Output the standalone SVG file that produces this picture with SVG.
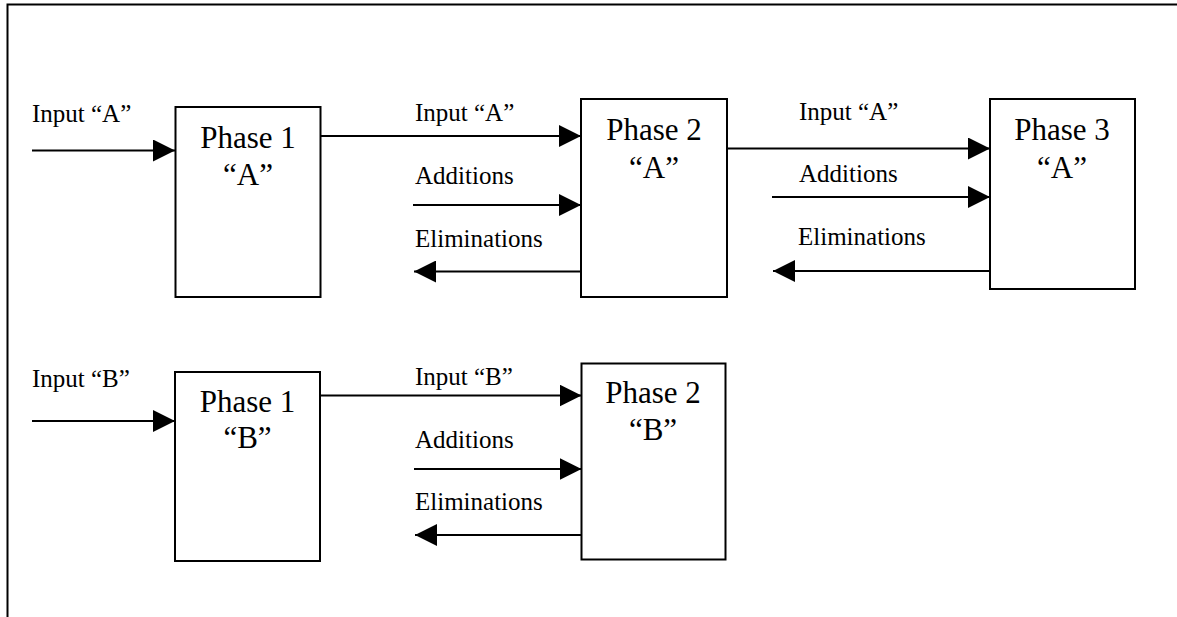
<svg xmlns="http://www.w3.org/2000/svg" width="1177" height="617" viewBox="0 0 1177 617">
<style>
.box{fill:#fff;stroke:#000;stroke-width:2}
.ph{font-family:"Liberation Serif","Times New Roman",serif;font-size:31px;fill:#000;text-anchor:middle}
.lb{font-family:"Liberation Serif","Times New Roman",serif;font-size:25px;fill:#000}
.cn{fill:none;stroke:#000;stroke-width:2;marker-end:url(#ah)}
.fr{fill:none;stroke:#000;stroke-width:2}
</style>
<defs>
<marker id="ah" markerUnits="userSpaceOnUse" markerWidth="22" markerHeight="22" viewBox="0 0 20 20" refX="20" refY="10" orient="auto">
<path d="M0,0 L20,10 L0,20 Z" fill="#000"/>
</marker>
</defs>
<rect width="1177" height="617" fill="#fff"/>
<path class="fr" d="M1177,4.5 H7.5 V617"/>
<g id="p1A"><rect class="box" x="175.5" y="107" width="145" height="190"/><text class="ph" x="248" y="148">Phase 1</text><text class="ph" x="248" y="185">“A”</text></g>
<g id="p2A"><rect class="box" x="581" y="99" width="146" height="198"/><text class="ph" x="654" y="140">Phase 2</text><text class="ph" x="654" y="178">“A”</text></g>
<g id="p3A"><rect class="box" x="990" y="99" width="145" height="190"/><text class="ph" x="1062" y="140">Phase 3</text><text class="ph" x="1062" y="178">“A”</text></g>
<g id="p1B"><rect class="box" x="175" y="372" width="145" height="189"/><text class="ph" x="247.5" y="412">Phase 1</text><text class="ph" x="247.5" y="448">“B”</text></g>
<g id="p2B"><rect class="box" x="581.5" y="363.5" width="144" height="196"/><text class="ph" x="653" y="403">Phase 2</text><text class="ph" x="653" y="440">“B”</text></g>
<g id="connectors">
<path class="cn" d="M32,150.5 H175"/>
<path class="cn" d="M320.5,136 H581"/>
<path class="cn" d="M413,205 H581"/>
<path class="cn" d="M581,271.5 H414"/>
<path class="cn" d="M727,148.5 H990"/>
<path class="cn" d="M772,197 H990"/>
<path class="cn" d="M990,271 H773"/>
<path class="cn" d="M32,421 H175"/>
<path class="cn" d="M320,395.5 H581.5"/>
<path class="cn" d="M414,469 H581.5"/>
<path class="cn" d="M581.5,535 H415"/>
</g>
<g id="labels">
<text class="lb" x="32" y="122">Input “A”</text>
<text class="lb" x="415" y="121">Input “A”</text>
<text class="lb" x="415" y="184">Additions</text>
<text class="lb" x="415" y="247">Eliminations</text>
<text class="lb" x="799" y="120">Input “A”</text>
<text class="lb" x="799" y="182">Additions</text>
<text class="lb" x="798" y="245">Eliminations</text>
<text class="lb" x="32" y="387">Input “B”</text>
<text class="lb" x="415" y="385">Input “B”</text>
<text class="lb" x="415" y="448">Additions</text>
<text class="lb" x="415" y="510">Eliminations</text>
</g>
</svg>
